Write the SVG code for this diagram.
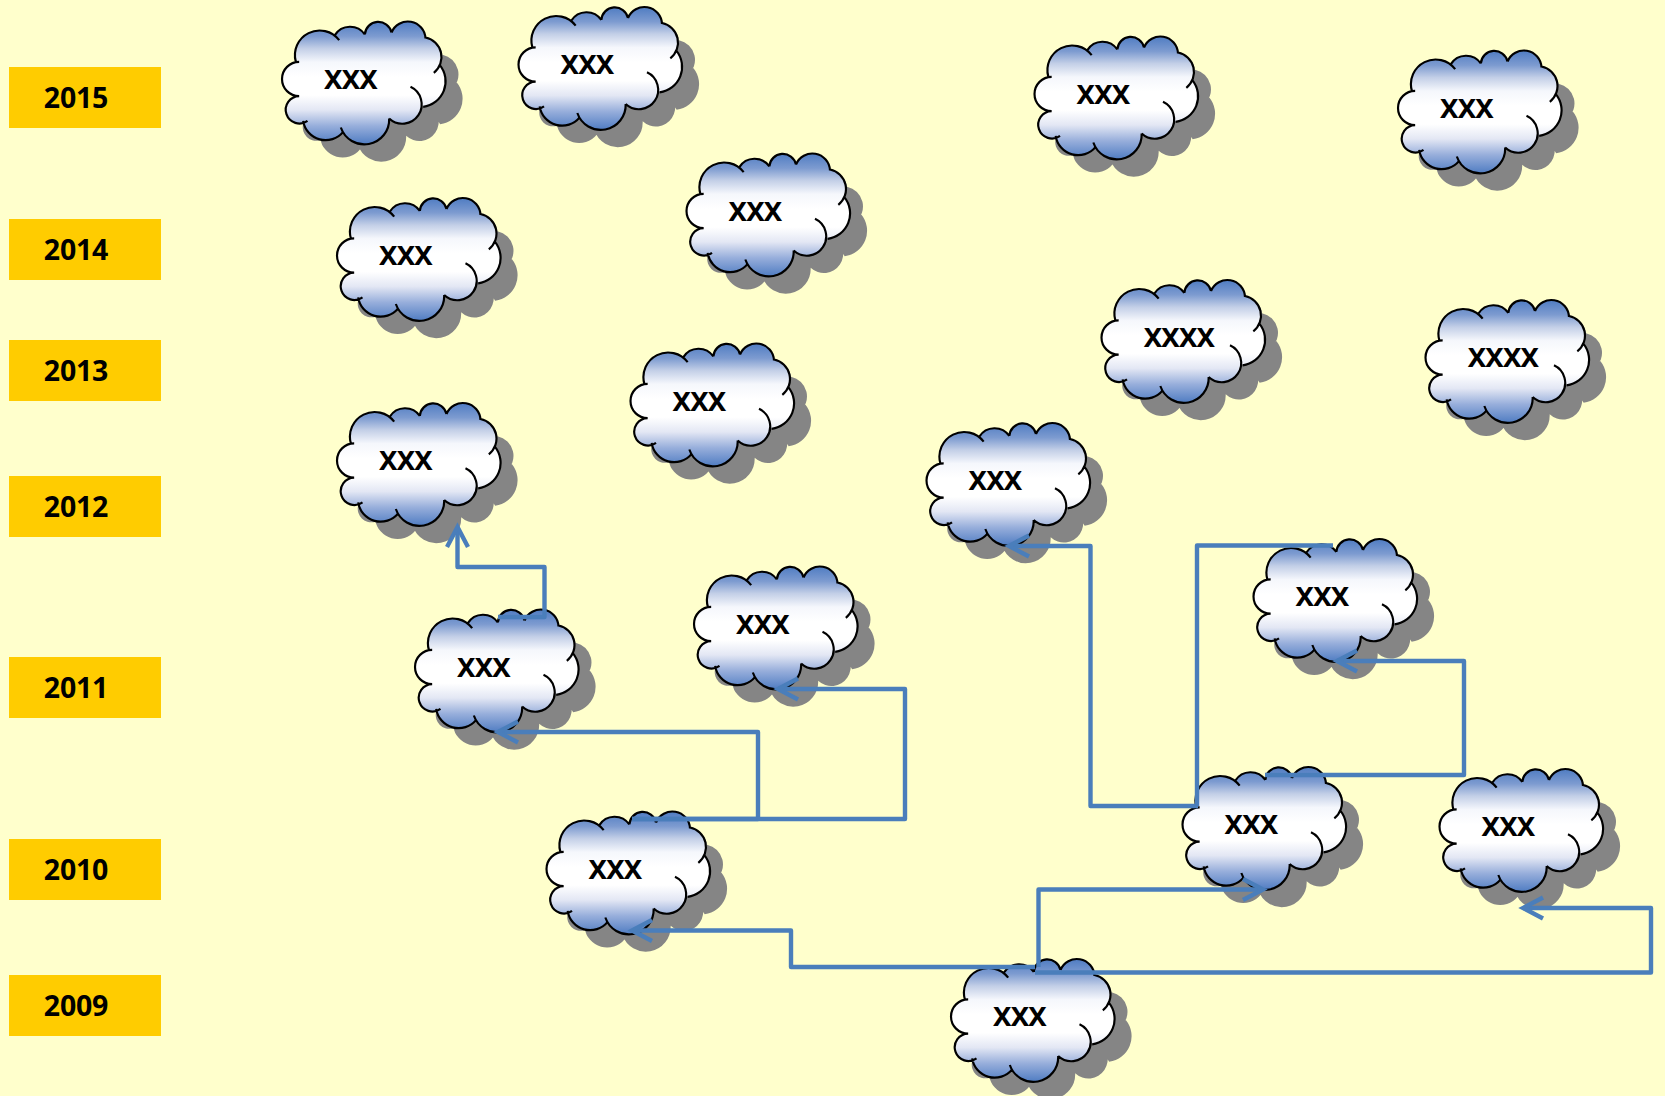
<svg xmlns="http://www.w3.org/2000/svg" xmlns:xlink="http://www.w3.org/1999/xlink" width="1665" height="1096" viewBox="0 0 1665 1096">
<style>
.yr{fill:#ffcc00}
.yt{font:bold 28.500px "Noto Sans","Liberation Sans",sans-serif;fill:#000;text-anchor:middle;letter-spacing:-.2px}
.ct{font:bold 27.500px "Noto Sans","Liberation Sans",sans-serif;fill:#000;text-anchor:middle;letter-spacing:-.8px}
.c{fill:none;stroke:#4a7ebb;stroke-width:4.400;stroke-linejoin:round}
.a{marker-end:url(#arr)}
</style>
<defs>
<linearGradient id="g" x1="0" y1="0" x2="0" y2="1">
<stop offset="0" stop-color="#4f7cc2"/><stop offset=".12" stop-color="#7d9bd0"/><stop offset=".22" stop-color="#c3cfe7"/><stop offset=".33" stop-color="#f5f7fc"/><stop offset=".45" stop-color="#fff"/><stop offset=".6" stop-color="#fff"/><stop offset=".72" stop-color="#e3e7f4"/><stop offset=".85" stop-color="#97aedb"/><stop offset="1" stop-color="#4f7cc2"/>
</linearGradient>
<filter id="b" x="-5%" y="-5%" width="110%" height="110%"><feGaussianBlur stdDeviation="1.500"/></filter>
<marker id="arr" markerUnits="userSpaceOnUse" markerWidth="30" markerHeight="30" viewBox="-24 -15 30 30" refX="0" refY="0" orient="auto"><path d="M-20,-10.500L0,0L-20,10.500" fill="none" stroke="#4a7ebb" stroke-width="4.400"/></marker>
<path id="f" d="M108,185A74,74 0 0 1 238,120L225,105A54,54 0 0 1 315,103A40.500,40.500 0 0 1 395,97A53,53 0 0 1 497,115L497,112A60,60 0 0 1 522,218L540,195A77,77 0 0 1 490,320L452,260A58,58 0 1 1 388,355A74.500,74.500 0 0 1 243,382L250,395A68,68 0 0 1 130,362L143,362A41,41 0 1 1 118,288A51.500,51.500 0 1 1 118,185Z"/>
<g id="cloud" transform="scale(.3333) translate(-272,-238)">
<use xlink:href="#f" href="#f" x="51" y="52" fill="#858585" filter="url(#b)"/>
<use xlink:href="#f" href="#f" fill="url(#g)"/>
<path fill="none" stroke="#000" stroke-width="6.500" d="M108,185A74,74 0 0 1 238,120M225,105A54,54 0 0 1 315,103M315,103A40.500,40.500 0 0 1 395,97M395,97A53,53 0 0 1 497,115M497,112A60,60 0 0 1 522,218M540,195A77,77 0 0 1 490,320M452,260A58,58 0 1 1 388,355M388,355A74.500,74.500 0 0 1 243,382M250,395A68,68 0 0 1 130,362M143,362A41,41 0 1 1 118,288M118,288A51.500,51.500 0 1 1 118,185"/>
</g>
</defs>
<rect width="1665" height="1096" fill="#ffffcc"/>
<g id="years">
<g id="y2015"><rect class="yr" x="9" y="67" width="152" height="61"/><text class="yt" x="76" y="108">2015</text></g>
<g id="y2014"><rect class="yr" x="9" y="219" width="152" height="61"/><text class="yt" x="76" y="260">2014</text></g>
<g id="y2013"><rect class="yr" x="9" y="340" width="152" height="61"/><text class="yt" x="76" y="381">2013</text></g>
<g id="y2012"><rect class="yr" x="9" y="476" width="152" height="61"/><text class="yt" x="76" y="517">2012</text></g>
<g id="y2011"><rect class="yr" x="9" y="657" width="152" height="61"/><text class="yt" x="76" y="698">2011</text></g>
<g id="y2010"><rect class="yr" x="9" y="839" width="152" height="61"/><text class="yt" x="76" y="880">2010</text></g>
<g id="y2009"><rect class="yr" x="9" y="975" width="152" height="61"/><text class="yt" x="76" y="1016">2009</text></g>
</g>
<g id="n1" transform="translate(350.500,79.500)"><use xlink:href="#cloud" href="#cloud"/><text class="ct" y="9">XXX</text></g>
<g id="n2" transform="translate(587,65)"><use xlink:href="#cloud" href="#cloud"/><text class="ct" y="9">XXX</text></g>
<g id="n3" transform="translate(1103,94.500)"><use xlink:href="#cloud" href="#cloud"/><text class="ct" y="9">XXX</text></g>
<g id="n4" transform="translate(1466.500,108.500)"><use xlink:href="#cloud" href="#cloud"/><text class="ct" y="9">XXX</text></g>
<g id="n5" transform="translate(405.500,256)"><use xlink:href="#cloud" href="#cloud"/><text class="ct" y="9">XXX</text></g>
<g id="n6" transform="translate(755,211.500)"><use xlink:href="#cloud" href="#cloud"/><text class="ct" y="9">XXX</text></g>
<g id="n7" transform="translate(1170,338)"><use xlink:href="#cloud" href="#cloud"/><text class="ct" x="9" y="9">XXXX</text></g>
<g id="n8" transform="translate(1494,358)"><use xlink:href="#cloud" href="#cloud"/><text class="ct" x="9" y="9">XXXX</text></g>
<g id="n9" transform="translate(699,401.500)"><use xlink:href="#cloud" href="#cloud"/><text class="ct" y="9">XXX</text></g>
<g id="n10" transform="translate(405.500,461)"><use xlink:href="#cloud" href="#cloud"/><text class="ct" y="9">XXX</text></g>
<g id="n11" transform="translate(995,481)"><use xlink:href="#cloud" href="#cloud"/><text class="ct" y="9">XXX</text></g>
<g id="n12" transform="translate(1322,597)"><use xlink:href="#cloud" href="#cloud"/><text class="ct" y="9">XXX</text></g>
<g id="n13" transform="translate(483.500,667.500)"><use xlink:href="#cloud" href="#cloud"/><text class="ct" y="9">XXX</text></g>
<g id="n14" transform="translate(762.500,624.500)"><use xlink:href="#cloud" href="#cloud"/><text class="ct" y="9">XXX</text></g>
<g id="n15" transform="translate(615,869.500)"><use xlink:href="#cloud" href="#cloud"/><text class="ct" y="9">XXX</text></g>
<g id="n16" transform="translate(1251,825)"><use xlink:href="#cloud" href="#cloud"/><text class="ct" y="9">XXX</text></g>
<g id="n17" transform="translate(1508,827)"><use xlink:href="#cloud" href="#cloud"/><text class="ct" y="9">XXX</text></g>
<g id="n18" transform="translate(1019.500,1017)"><use xlink:href="#cloud" href="#cloud"/><text class="ct" y="9">XXX</text></g>
<g id="connectors">
<path class="c a" d="M498,617H544.500V567H457.500V527"/>
<path class="c a" d="M632,819H758V732H498"/>
<path class="c a" d="M632,819H905V689H778"/>
<path class="c a" d="M1035,967H791V930.500H632"/>
<path class="c a" d="M1038.500,967V889.500H1263"/>
<path class="c a" d="M1035,972.500H1651V908H1523"/>
<path class="c a" d="M1198,806H1090.500V546H1009"/>
<path class="c" d="M1197,806V545.500H1333"/>
<path class="c a" d="M1265,775H1464V661H1337"/>
</g>
</svg>
